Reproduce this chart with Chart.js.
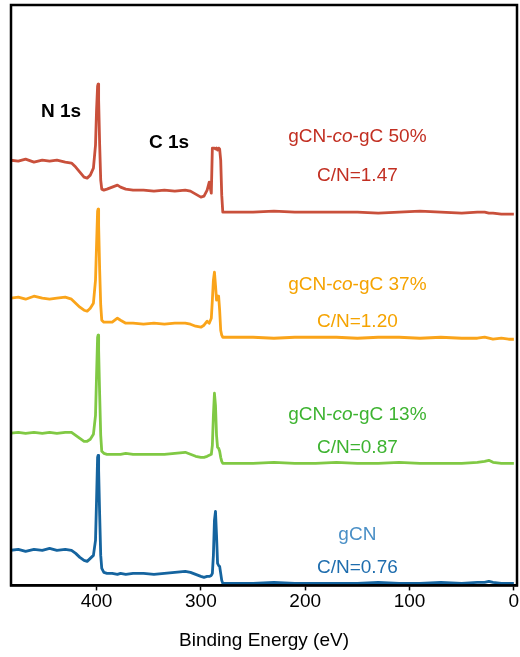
<!DOCTYPE html>
<html>
<head>
<meta charset="utf-8">
<script src="https://cdn.jsdelivr.net/npm/chart.js@4.4.1/dist/chart.umd.min.js"></script>
<style>
  html, body { margin: 0; padding: 0; background: #fff; }
  #wrap { width: 520px; height: 657px; }
</style>
</head>
<body>
<div id="wrap"><canvas id="c" width="520" height="657"></canvas></div>
<script>
// Binding energy (eV), shared by all spectra
const energy = [483, 475, 468, 460, 452, 445, 438, 430, 424, 420,
  416, 412, 409, 406, 403, 401, 400, 399, 398.5, 398,
  397, 396, 395, 393, 390, 385, 380, 377, 372, 365,
  355, 345, 335, 325, 315, 310, 305, 300, 297, 294,
  292, 290, 289, 288, 287, 286, 285, 284, 283, 282,
  281, 280, 279, 277, 270, 250, 230, 210, 190, 170,
  150, 130, 110, 90, 70, 50, 35, 28, 24, 20,
  12, 5, 0];

// Stacked intensities (arb. units, offset for display)
const gCN = [35, 36, 34, 36, 35, 37, 35, 36, 35, 32,
  28, 25, 24, 27, 30, 45, 85, 128, 130, 115,
  70, 30, 17, 13, 12, 12, 11, 12, 11, 12,
  12, 11, 12, 13, 14, 13, 11, 9, 8, 9,
  9, 10, 12, 30, 65, 74, 50, 22, 20, 19,
  12, 5, 2, 2, 2, 2, 3, 2, 2, 2,
  2, 3, 2, 2, 3, 2, 3, 3, 4, 3,
  2, 2, 2];

const co13 = [152, 153, 152, 153, 152, 153, 152, 153, 153, 150,
  147, 144, 144, 146, 151, 170, 210, 248, 250, 235,
  190, 150, 134, 132, 131, 131, 131, 131, 132, 131,
  131, 131, 131, 132, 133, 131, 129, 128, 128, 129,
  130, 131, 140, 170, 192, 180, 150, 138, 137, 134,
  128, 124, 122, 122, 122, 122, 123, 122, 122, 123,
  122, 122, 123, 122, 122, 122, 123, 124, 125, 123,
  122, 122, 122];

const co37 = [287, 288, 286, 289, 287, 286, 287, 288, 286, 282,
  278, 275, 274, 277, 282, 305, 340, 374, 376, 360,
  315, 280, 265, 263, 263, 263, 267, 265, 262, 262,
  261, 262, 261, 262, 262, 261, 259, 258, 260, 264,
  262, 267, 285, 305, 313, 300, 285, 289, 289, 275,
  255, 250, 248, 248, 248, 248, 247, 248, 248, 248,
  247, 248, 248, 247, 248, 247, 247, 248, 247, 246,
  247, 246, 246];

const co50 = [425, 424, 426, 423, 425, 424, 425, 423, 422, 418,
  413, 408, 407, 410, 417, 440, 475, 499, 501, 485,
  440, 405, 396, 395, 396, 398, 400, 398, 396, 395,
  395, 394, 395, 394, 395, 394, 391, 388, 389, 395,
  403, 392, 437, 437, 437, 436, 437, 435, 437, 436,
  425, 390, 373, 373, 373, 373, 374, 373, 373, 373,
  373, 372, 373, 374, 373, 372, 373, 373, 372, 372,
  371, 371, 371];

const tickValues = [400, 300, 200, 100, 0];
const seriesNames = ['gCN', 'gCN-co-gC 13%', 'gCN-co-gC 37%', 'gCN-co-gC 50%'];

const FONT = "'Liberation Sans', Helvetica, Arial, sans-serif";

// Text annotations (positions in data units)
const notes = [
  { parts: [['N 1s', false]], x: 434, y: 468, color: '#000', bold: true },
  { parts: [['C 1s', false]], x: 330.6, y: 437, color: '#000', bold: true },
  { parts: [['gCN-', false], ['co', true], ['-gC 50%', false]], x: 150, y: 443, color: '#C22F22' },
  { parts: [['C/N=1.47', false]], x: 150, y: 404, color: '#C22F22' },
  { parts: [['gCN-', false], ['co', true], ['-gC 37%', false]], x: 150, y: 295.5, color: '#F5A300' },
  { parts: [['C/N=1.20', false]], x: 150, y: 258, color: '#F5A300' },
  { parts: [['gCN-', false], ['co', true], ['-gC 13%', false]], x: 150, y: 165, color: '#3DB330' },
  { parts: [['C/N=0.87', false]], x: 150, y: 132, color: '#3DB330' },
  { parts: [['gCN', false]], x: 150, y: 45, color: '#4A8FC6' },
  { parts: [['C/N=0.76', false]], x: 150, y: 12, color: '#1E6DAE' }
];

const framePlugin = {
  id: 'frame',
  afterDraw(chart) {
    const { ctx, chartArea: a, scales } = chart;
    ctx.save();
    ctx.strokeStyle = '#000';
    ctx.lineWidth = 2.5;
    ctx.strokeRect(a.left, a.top, a.right - a.left, a.bottom - a.top);
    ctx.textBaseline = 'alphabetic';
    ctx.textAlign = 'left';
    notes.forEach(n => {
      const size = 19;
      const fonts = n.parts.map(p => (p[1] ? 'italic ' : '') + (n.bold ? 'bold ' : '') + size + 'px ' + FONT);
      let total = 0;
      const widths = n.parts.map((p, i) => { ctx.font = fonts[i]; const w = ctx.measureText(p[0]).width; total += w; return w; });
      let xp = scales.x.getPixelForValue(n.x) - total / 2;
      const yp = scales.y.getPixelForValue(n.y);
      ctx.fillStyle = n.color;
      n.parts.forEach((p, i) => { ctx.font = fonts[i]; ctx.fillText(p[0], xp, yp); xp += widths[i]; });
    });
    ctx.restore();
  }
};

const mk = (arr) => energy.map((e, i) => ({ x: e, y: arr[i] }));

new Chart(document.getElementById('c'), {
  type: 'line',
  data: {
    datasets: [
      { label: seriesNames[0], data: mk(gCN), borderColor: '#15649F' },
      { label: seriesNames[1], data: mk(co13), borderColor: '#80C944' },
      { label: seriesNames[2], data: mk(co37), borderColor: '#FAA41A' },
      { label: seriesNames[3], data: mk(co50), borderColor: '#C9503B' }
    ].map(d => Object.assign(d, { borderWidth: 2.8, pointRadius: 0, tension: 0, fill: false, borderJoinStyle: 'round' }))
  },
  options: {
    responsive: false,
    animation: false,
    devicePixelRatio: 1,
    layout: { padding: { left: 11, right: 3, top: 5, bottom: 5 } },
    plugins: { legend: { display: false }, tooltip: { enabled: false } },
    scales: {
      x: {
        type: 'linear', reverse: true, min: -3, max: 482,
        afterBuildTicks: s => { s.ticks = tickValues.map(v => ({ value: v })); },
        ticks: { font: { size: 19, family: FONT }, color: '#000', padding: 0, maxRotation: 0, autoSkip: false },
        grid: { drawOnChartArea: false, drawTicks: true, tickLength: 5, tickColor: '#000', tickWidth: 1.5 },
        border: { display: true, color: '#000', width: 2.5 },
        title: { display: true, text: 'Binding Energy (eV)', font: { size: 19, family: FONT }, color: '#000', padding: { top: 16, bottom: 0 } }
      },
      y: { display: false, min: 0, max: 580 }
    }
  },
  plugins: [framePlugin]
});
</script>
</body>
</html>
